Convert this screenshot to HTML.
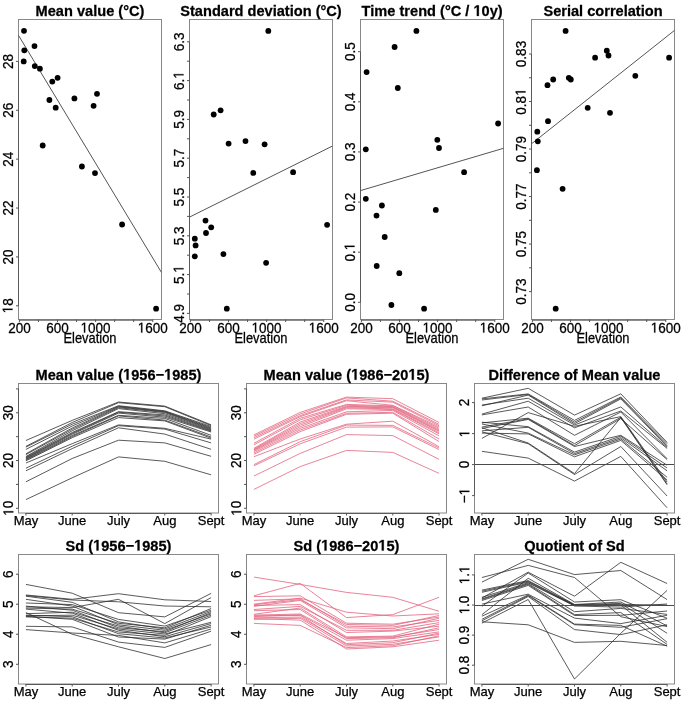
<!DOCTYPE html>
<html><head><meta charset="utf-8"><style>
html,body{margin:0;padding:0;background:#fff;}
svg{display:block;font-family:"Liberation Sans", sans-serif;will-change:transform;}
</style></head><body>
<svg width="685" height="707" viewBox="0 0 685 707">
<rect width="685" height="707" fill="#fff"/>
<rect x="18.5" y="19.5" width="143.0" height="300.0" fill="none" stroke="#888888" stroke-width="1"/>
<text transform="translate(90.00,15.90) scale(1,1.06)" text-anchor="middle" font-size="14.6" font-weight="bold" stroke="#000" stroke-width="0.25" fill="#000">Mean value (°C)</text>
<line x1="18.50" y1="305.80" x2="18.50" y2="61.40" stroke="#5a5a5a" stroke-width="1" />
<line x1="16.00" y1="305.80" x2="18.50" y2="305.80" stroke="#555555" stroke-width="1" />
<line x1="16.00" y1="256.92" x2="18.50" y2="256.92" stroke="#555555" stroke-width="1" />
<line x1="16.00" y1="208.04" x2="18.50" y2="208.04" stroke="#555555" stroke-width="1" />
<line x1="16.00" y1="159.16" x2="18.50" y2="159.16" stroke="#555555" stroke-width="1" />
<line x1="16.00" y1="110.28" x2="18.50" y2="110.28" stroke="#555555" stroke-width="1" />
<line x1="16.00" y1="61.40" x2="18.50" y2="61.40" stroke="#555555" stroke-width="1" />
<text transform="translate(12.50,305.80) rotate(-90) scale(1,1.06)" text-anchor="middle" font-size="13.5" stroke="#000" stroke-width="0.25" fill="#000" style="font-kerning:none"> 8</text>
<path transform="translate(12.50,305.80) rotate(-90) scale(1,1.06) translate(-7.508,0) scale(0.00659,-0.00659)" d="M515 0L515 1237L197 1010L197 1180L530 1409L696 1409L696 0Z" fill="#000" stroke="#000" stroke-width="37.93"/>
<text transform="translate(12.50,256.92) rotate(-90) scale(1,1.06)" text-anchor="middle" font-size="13.5" stroke="#000" stroke-width="0.25" fill="#000">20</text>
<text transform="translate(12.50,208.04) rotate(-90) scale(1,1.06)" text-anchor="middle" font-size="13.5" stroke="#000" stroke-width="0.25" fill="#000">22</text>
<text transform="translate(12.50,159.16) rotate(-90) scale(1,1.06)" text-anchor="middle" font-size="13.5" stroke="#000" stroke-width="0.25" fill="#000">24</text>
<text transform="translate(12.50,110.28) rotate(-90) scale(1,1.06)" text-anchor="middle" font-size="13.5" stroke="#000" stroke-width="0.25" fill="#000">26</text>
<text transform="translate(12.50,61.40) rotate(-90) scale(1,1.06)" text-anchor="middle" font-size="13.5" stroke="#000" stroke-width="0.25" fill="#000">28</text>
<line x1="19.40" y1="320.20" x2="152.75" y2="320.20" stroke="#5a5a5a" stroke-width="1" />
<line x1="19.40" y1="319.50" x2="19.40" y2="322.00" stroke="#555555" stroke-width="1" />
<line x1="38.45" y1="319.50" x2="38.45" y2="322.00" stroke="#555555" stroke-width="1" />
<line x1="57.50" y1="319.50" x2="57.50" y2="322.00" stroke="#555555" stroke-width="1" />
<line x1="76.55" y1="319.50" x2="76.55" y2="322.00" stroke="#555555" stroke-width="1" />
<line x1="95.60" y1="319.50" x2="95.60" y2="322.00" stroke="#555555" stroke-width="1" />
<line x1="114.65" y1="319.50" x2="114.65" y2="322.00" stroke="#555555" stroke-width="1" />
<line x1="133.70" y1="319.50" x2="133.70" y2="322.00" stroke="#555555" stroke-width="1" />
<line x1="152.75" y1="319.50" x2="152.75" y2="322.00" stroke="#555555" stroke-width="1" />
<text transform="translate(19.40,332.60) scale(1,1.06)" text-anchor="middle" font-size="13.5" stroke="#000" stroke-width="0.25" fill="#000">200</text>
<text transform="translate(57.50,332.60) scale(1,1.06)" text-anchor="middle" font-size="13.5" stroke="#000" stroke-width="0.25" fill="#000">600</text>
<text transform="translate(95.60,332.60) scale(1,1.06)" text-anchor="middle" font-size="13.5" stroke="#000" stroke-width="0.25" fill="#000" style="font-kerning:none"> 000</text>
<path transform="translate(95.60,332.60) scale(1,1.06) translate(-15.016,0) scale(0.00659,-0.00659)" d="M515 0L515 1237L197 1010L197 1180L530 1409L696 1409L696 0Z" fill="#000" stroke="#000" stroke-width="37.93"/>
<text transform="translate(152.75,332.60) scale(1,1.06)" text-anchor="middle" font-size="13.5" stroke="#000" stroke-width="0.25" fill="#000" style="font-kerning:none"> 600</text>
<path transform="translate(152.75,332.60) scale(1,1.06) translate(-15.016,0) scale(0.00659,-0.00659)" d="M515 0L515 1237L197 1010L197 1180L530 1409L696 1409L696 0Z" fill="#000" stroke="#000" stroke-width="37.93"/>
<text transform="translate(90.00,342.70) scale(1,1.08)" text-anchor="middle" font-size="12.9" stroke="#000" stroke-width="0.25" fill="#000">Elevation</text>
<line x1="18.50" y1="35.40" x2="161.50" y2="272.50" stroke="#555" stroke-width="1" />
<circle cx="24.00" cy="30.80" r="2.9" fill="#000"/>
<circle cx="24.30" cy="50.30" r="2.9" fill="#000"/>
<circle cx="23.70" cy="61.40" r="2.9" fill="#000"/>
<circle cx="34.50" cy="46.10" r="2.9" fill="#000"/>
<circle cx="34.80" cy="66.10" r="2.9" fill="#000"/>
<circle cx="39.90" cy="68.70" r="2.9" fill="#000"/>
<circle cx="52.30" cy="81.60" r="2.9" fill="#000"/>
<circle cx="57.60" cy="77.80" r="2.9" fill="#000"/>
<circle cx="49.40" cy="100.00" r="2.9" fill="#000"/>
<circle cx="55.70" cy="107.70" r="2.9" fill="#000"/>
<circle cx="74.40" cy="98.40" r="2.9" fill="#000"/>
<circle cx="97.00" cy="93.80" r="2.9" fill="#000"/>
<circle cx="93.60" cy="105.80" r="2.9" fill="#000"/>
<circle cx="42.70" cy="145.50" r="2.9" fill="#000"/>
<circle cx="81.90" cy="166.50" r="2.9" fill="#000"/>
<circle cx="95.00" cy="173.10" r="2.9" fill="#000"/>
<circle cx="122.10" cy="224.50" r="2.9" fill="#000"/>
<circle cx="156.10" cy="308.70" r="2.9" fill="#000"/>
<rect x="189.5" y="19.5" width="143.0" height="300.0" fill="none" stroke="#888888" stroke-width="1"/>
<text transform="translate(261.00,15.90) scale(1,1.06)" text-anchor="middle" font-size="14.6" font-weight="bold" stroke="#000" stroke-width="0.25" fill="#000">Standard deviation (°C)</text>
<line x1="189.50" y1="313.40" x2="189.50" y2="41.80" stroke="#5a5a5a" stroke-width="1" />
<line x1="187.00" y1="313.40" x2="189.50" y2="313.40" stroke="#555555" stroke-width="1" />
<line x1="187.00" y1="294.00" x2="189.50" y2="294.00" stroke="#555555" stroke-width="1" />
<line x1="187.00" y1="274.60" x2="189.50" y2="274.60" stroke="#555555" stroke-width="1" />
<line x1="187.00" y1="255.20" x2="189.50" y2="255.20" stroke="#555555" stroke-width="1" />
<line x1="187.00" y1="235.80" x2="189.50" y2="235.80" stroke="#555555" stroke-width="1" />
<line x1="187.00" y1="216.40" x2="189.50" y2="216.40" stroke="#555555" stroke-width="1" />
<line x1="187.00" y1="197.00" x2="189.50" y2="197.00" stroke="#555555" stroke-width="1" />
<line x1="187.00" y1="177.60" x2="189.50" y2="177.60" stroke="#555555" stroke-width="1" />
<line x1="187.00" y1="158.20" x2="189.50" y2="158.20" stroke="#555555" stroke-width="1" />
<line x1="187.00" y1="138.80" x2="189.50" y2="138.80" stroke="#555555" stroke-width="1" />
<line x1="187.00" y1="119.40" x2="189.50" y2="119.40" stroke="#555555" stroke-width="1" />
<line x1="187.00" y1="100.00" x2="189.50" y2="100.00" stroke="#555555" stroke-width="1" />
<line x1="187.00" y1="80.60" x2="189.50" y2="80.60" stroke="#555555" stroke-width="1" />
<line x1="187.00" y1="61.20" x2="189.50" y2="61.20" stroke="#555555" stroke-width="1" />
<line x1="187.00" y1="41.80" x2="189.50" y2="41.80" stroke="#555555" stroke-width="1" />
<text transform="translate(183.50,313.40) rotate(-90) scale(1,1.06)" text-anchor="middle" font-size="13.5" stroke="#000" stroke-width="0.25" fill="#000">4.9</text>
<text transform="translate(183.50,274.60) rotate(-90) scale(1,1.06)" text-anchor="middle" font-size="13.5" stroke="#000" stroke-width="0.25" fill="#000" style="font-kerning:none">5. </text>
<path transform="translate(183.50,274.60) rotate(-90) scale(1,1.06) translate(1.875,0) scale(0.00659,-0.00659)" d="M515 0L515 1237L197 1010L197 1180L530 1409L696 1409L696 0Z" fill="#000" stroke="#000" stroke-width="37.93"/>
<text transform="translate(183.50,235.80) rotate(-90) scale(1,1.06)" text-anchor="middle" font-size="13.5" stroke="#000" stroke-width="0.25" fill="#000">5.3</text>
<text transform="translate(183.50,197.00) rotate(-90) scale(1,1.06)" text-anchor="middle" font-size="13.5" stroke="#000" stroke-width="0.25" fill="#000">5.5</text>
<text transform="translate(183.50,158.20) rotate(-90) scale(1,1.06)" text-anchor="middle" font-size="13.5" stroke="#000" stroke-width="0.25" fill="#000">5.7</text>
<text transform="translate(183.50,119.40) rotate(-90) scale(1,1.06)" text-anchor="middle" font-size="13.5" stroke="#000" stroke-width="0.25" fill="#000">5.9</text>
<text transform="translate(183.50,80.60) rotate(-90) scale(1,1.06)" text-anchor="middle" font-size="13.5" stroke="#000" stroke-width="0.25" fill="#000" style="font-kerning:none">6. </text>
<path transform="translate(183.50,80.60) rotate(-90) scale(1,1.06) translate(1.875,0) scale(0.00659,-0.00659)" d="M515 0L515 1237L197 1010L197 1180L530 1409L696 1409L696 0Z" fill="#000" stroke="#000" stroke-width="37.93"/>
<text transform="translate(183.50,41.80) rotate(-90) scale(1,1.06)" text-anchor="middle" font-size="13.5" stroke="#000" stroke-width="0.25" fill="#000">6.3</text>
<line x1="190.40" y1="320.20" x2="323.75" y2="320.20" stroke="#5a5a5a" stroke-width="1" />
<line x1="190.40" y1="319.50" x2="190.40" y2="322.00" stroke="#555555" stroke-width="1" />
<line x1="209.45" y1="319.50" x2="209.45" y2="322.00" stroke="#555555" stroke-width="1" />
<line x1="228.50" y1="319.50" x2="228.50" y2="322.00" stroke="#555555" stroke-width="1" />
<line x1="247.55" y1="319.50" x2="247.55" y2="322.00" stroke="#555555" stroke-width="1" />
<line x1="266.60" y1="319.50" x2="266.60" y2="322.00" stroke="#555555" stroke-width="1" />
<line x1="285.65" y1="319.50" x2="285.65" y2="322.00" stroke="#555555" stroke-width="1" />
<line x1="304.70" y1="319.50" x2="304.70" y2="322.00" stroke="#555555" stroke-width="1" />
<line x1="323.75" y1="319.50" x2="323.75" y2="322.00" stroke="#555555" stroke-width="1" />
<text transform="translate(190.40,332.60) scale(1,1.06)" text-anchor="middle" font-size="13.5" stroke="#000" stroke-width="0.25" fill="#000">200</text>
<text transform="translate(228.50,332.60) scale(1,1.06)" text-anchor="middle" font-size="13.5" stroke="#000" stroke-width="0.25" fill="#000">600</text>
<text transform="translate(266.60,332.60) scale(1,1.06)" text-anchor="middle" font-size="13.5" stroke="#000" stroke-width="0.25" fill="#000" style="font-kerning:none"> 000</text>
<path transform="translate(266.60,332.60) scale(1,1.06) translate(-15.016,0) scale(0.00659,-0.00659)" d="M515 0L515 1237L197 1010L197 1180L530 1409L696 1409L696 0Z" fill="#000" stroke="#000" stroke-width="37.93"/>
<text transform="translate(323.75,332.60) scale(1,1.06)" text-anchor="middle" font-size="13.5" stroke="#000" stroke-width="0.25" fill="#000" style="font-kerning:none"> 600</text>
<path transform="translate(323.75,332.60) scale(1,1.06) translate(-15.016,0) scale(0.00659,-0.00659)" d="M515 0L515 1237L197 1010L197 1180L530 1409L696 1409L696 0Z" fill="#000" stroke="#000" stroke-width="37.93"/>
<text transform="translate(261.00,342.70) scale(1,1.08)" text-anchor="middle" font-size="12.9" stroke="#000" stroke-width="0.25" fill="#000">Elevation</text>
<line x1="189.50" y1="217.10" x2="332.50" y2="146.00" stroke="#555" stroke-width="1" />
<circle cx="268.30" cy="30.90" r="2.9" fill="#000"/>
<circle cx="213.70" cy="114.50" r="2.9" fill="#000"/>
<circle cx="220.60" cy="110.30" r="2.9" fill="#000"/>
<circle cx="228.60" cy="143.60" r="2.9" fill="#000"/>
<circle cx="245.50" cy="141.10" r="2.9" fill="#000"/>
<circle cx="264.60" cy="144.30" r="2.9" fill="#000"/>
<circle cx="253.30" cy="172.90" r="2.9" fill="#000"/>
<circle cx="293.10" cy="172.20" r="2.9" fill="#000"/>
<circle cx="205.50" cy="220.60" r="2.9" fill="#000"/>
<circle cx="211.20" cy="227.30" r="2.9" fill="#000"/>
<circle cx="206.00" cy="233.00" r="2.9" fill="#000"/>
<circle cx="194.80" cy="238.70" r="2.9" fill="#000"/>
<circle cx="195.60" cy="245.40" r="2.9" fill="#000"/>
<circle cx="194.80" cy="256.30" r="2.9" fill="#000"/>
<circle cx="223.40" cy="254.10" r="2.9" fill="#000"/>
<circle cx="266.10" cy="262.80" r="2.9" fill="#000"/>
<circle cx="327.10" cy="224.80" r="2.9" fill="#000"/>
<circle cx="226.80" cy="308.70" r="2.9" fill="#000"/>
<rect x="360.5" y="19.5" width="143.0" height="300.0" fill="none" stroke="#888888" stroke-width="1"/>
<text transform="translate(432.00,15.90) scale(1,1.06)" text-anchor="middle" font-size="14.6" font-weight="bold" stroke="#000" stroke-width="0.25" fill="#000" style="font-kerning:none">Time trend (°C /  0y)</text>
<path transform="translate(432.00,15.90) scale(1,1.06) translate(41.440,0) scale(0.00713,-0.00713)" d="M478 0L478 1170L140 959L140 1180L493 1409L759 1409L759 0Z" fill="#000" stroke="#000" stroke-width="35.07"/>
<line x1="360.50" y1="302.30" x2="360.50" y2="51.70" stroke="#5a5a5a" stroke-width="1" />
<line x1="358.00" y1="302.30" x2="360.50" y2="302.30" stroke="#555555" stroke-width="1" />
<line x1="358.00" y1="252.18" x2="360.50" y2="252.18" stroke="#555555" stroke-width="1" />
<line x1="358.00" y1="202.06" x2="360.50" y2="202.06" stroke="#555555" stroke-width="1" />
<line x1="358.00" y1="151.94" x2="360.50" y2="151.94" stroke="#555555" stroke-width="1" />
<line x1="358.00" y1="101.82" x2="360.50" y2="101.82" stroke="#555555" stroke-width="1" />
<line x1="358.00" y1="51.70" x2="360.50" y2="51.70" stroke="#555555" stroke-width="1" />
<text transform="translate(354.50,302.30) rotate(-90) scale(1,1.06)" text-anchor="middle" font-size="13.5" stroke="#000" stroke-width="0.25" fill="#000">0.0</text>
<text transform="translate(354.50,252.18) rotate(-90) scale(1,1.06)" text-anchor="middle" font-size="13.5" stroke="#000" stroke-width="0.25" fill="#000" style="font-kerning:none">0. </text>
<path transform="translate(354.50,252.18) rotate(-90) scale(1,1.06) translate(1.875,0) scale(0.00659,-0.00659)" d="M515 0L515 1237L197 1010L197 1180L530 1409L696 1409L696 0Z" fill="#000" stroke="#000" stroke-width="37.93"/>
<text transform="translate(354.50,202.06) rotate(-90) scale(1,1.06)" text-anchor="middle" font-size="13.5" stroke="#000" stroke-width="0.25" fill="#000">0.2</text>
<text transform="translate(354.50,151.94) rotate(-90) scale(1,1.06)" text-anchor="middle" font-size="13.5" stroke="#000" stroke-width="0.25" fill="#000">0.3</text>
<text transform="translate(354.50,101.82) rotate(-90) scale(1,1.06)" text-anchor="middle" font-size="13.5" stroke="#000" stroke-width="0.25" fill="#000">0.4</text>
<text transform="translate(354.50,51.70) rotate(-90) scale(1,1.06)" text-anchor="middle" font-size="13.5" stroke="#000" stroke-width="0.25" fill="#000">0.5</text>
<line x1="361.40" y1="320.20" x2="494.75" y2="320.20" stroke="#5a5a5a" stroke-width="1" />
<line x1="361.40" y1="319.50" x2="361.40" y2="322.00" stroke="#555555" stroke-width="1" />
<line x1="380.45" y1="319.50" x2="380.45" y2="322.00" stroke="#555555" stroke-width="1" />
<line x1="399.50" y1="319.50" x2="399.50" y2="322.00" stroke="#555555" stroke-width="1" />
<line x1="418.55" y1="319.50" x2="418.55" y2="322.00" stroke="#555555" stroke-width="1" />
<line x1="437.60" y1="319.50" x2="437.60" y2="322.00" stroke="#555555" stroke-width="1" />
<line x1="456.65" y1="319.50" x2="456.65" y2="322.00" stroke="#555555" stroke-width="1" />
<line x1="475.70" y1="319.50" x2="475.70" y2="322.00" stroke="#555555" stroke-width="1" />
<line x1="494.75" y1="319.50" x2="494.75" y2="322.00" stroke="#555555" stroke-width="1" />
<text transform="translate(361.40,332.60) scale(1,1.06)" text-anchor="middle" font-size="13.5" stroke="#000" stroke-width="0.25" fill="#000">200</text>
<text transform="translate(399.50,332.60) scale(1,1.06)" text-anchor="middle" font-size="13.5" stroke="#000" stroke-width="0.25" fill="#000">600</text>
<text transform="translate(437.60,332.60) scale(1,1.06)" text-anchor="middle" font-size="13.5" stroke="#000" stroke-width="0.25" fill="#000" style="font-kerning:none"> 000</text>
<path transform="translate(437.60,332.60) scale(1,1.06) translate(-15.016,0) scale(0.00659,-0.00659)" d="M515 0L515 1237L197 1010L197 1180L530 1409L696 1409L696 0Z" fill="#000" stroke="#000" stroke-width="37.93"/>
<text transform="translate(494.75,332.60) scale(1,1.06)" text-anchor="middle" font-size="13.5" stroke="#000" stroke-width="0.25" fill="#000" style="font-kerning:none"> 600</text>
<path transform="translate(494.75,332.60) scale(1,1.06) translate(-15.016,0) scale(0.00659,-0.00659)" d="M515 0L515 1237L197 1010L197 1180L530 1409L696 1409L696 0Z" fill="#000" stroke="#000" stroke-width="37.93"/>
<text transform="translate(432.00,342.70) scale(1,1.08)" text-anchor="middle" font-size="12.9" stroke="#000" stroke-width="0.25" fill="#000">Elevation</text>
<line x1="360.50" y1="190.60" x2="503.50" y2="148.30" stroke="#555" stroke-width="1" />
<circle cx="416.40" cy="30.90" r="2.9" fill="#000"/>
<circle cx="394.60" cy="47.00" r="2.9" fill="#000"/>
<circle cx="366.60" cy="72.10" r="2.9" fill="#000"/>
<circle cx="397.80" cy="88.00" r="2.9" fill="#000"/>
<circle cx="498.10" cy="123.50" r="2.9" fill="#000"/>
<circle cx="437.30" cy="139.80" r="2.9" fill="#000"/>
<circle cx="439.00" cy="148.00" r="2.9" fill="#000"/>
<circle cx="365.80" cy="149.30" r="2.9" fill="#000"/>
<circle cx="464.10" cy="172.20" r="2.9" fill="#000"/>
<circle cx="365.80" cy="198.80" r="2.9" fill="#000"/>
<circle cx="381.90" cy="205.50" r="2.9" fill="#000"/>
<circle cx="376.50" cy="215.60" r="2.9" fill="#000"/>
<circle cx="435.80" cy="209.90" r="2.9" fill="#000"/>
<circle cx="384.70" cy="237.00" r="2.9" fill="#000"/>
<circle cx="376.70" cy="266.00" r="2.9" fill="#000"/>
<circle cx="399.30" cy="273.20" r="2.9" fill="#000"/>
<circle cx="391.40" cy="305.00" r="2.9" fill="#000"/>
<circle cx="424.10" cy="308.70" r="2.9" fill="#000"/>
<rect x="531.5" y="19.5" width="143.0" height="300.0" fill="none" stroke="#888888" stroke-width="1"/>
<text transform="translate(603.00,15.90) scale(1,1.06)" text-anchor="middle" font-size="14.6" font-weight="bold" stroke="#000" stroke-width="0.25" fill="#000">Serial correlation</text>
<line x1="531.50" y1="291.60" x2="531.50" y2="54.00" stroke="#5a5a5a" stroke-width="1" />
<line x1="529.00" y1="291.60" x2="531.50" y2="291.60" stroke="#555555" stroke-width="1" />
<line x1="529.00" y1="267.84" x2="531.50" y2="267.84" stroke="#555555" stroke-width="1" />
<line x1="529.00" y1="244.08" x2="531.50" y2="244.08" stroke="#555555" stroke-width="1" />
<line x1="529.00" y1="220.32" x2="531.50" y2="220.32" stroke="#555555" stroke-width="1" />
<line x1="529.00" y1="196.56" x2="531.50" y2="196.56" stroke="#555555" stroke-width="1" />
<line x1="529.00" y1="172.80" x2="531.50" y2="172.80" stroke="#555555" stroke-width="1" />
<line x1="529.00" y1="149.04" x2="531.50" y2="149.04" stroke="#555555" stroke-width="1" />
<line x1="529.00" y1="125.28" x2="531.50" y2="125.28" stroke="#555555" stroke-width="1" />
<line x1="529.00" y1="101.52" x2="531.50" y2="101.52" stroke="#555555" stroke-width="1" />
<line x1="529.00" y1="77.76" x2="531.50" y2="77.76" stroke="#555555" stroke-width="1" />
<line x1="529.00" y1="54.00" x2="531.50" y2="54.00" stroke="#555555" stroke-width="1" />
<text transform="translate(525.50,291.60) rotate(-90) scale(1,1.06)" text-anchor="middle" font-size="13.5" stroke="#000" stroke-width="0.25" fill="#000">0.73</text>
<text transform="translate(525.50,244.08) rotate(-90) scale(1,1.06)" text-anchor="middle" font-size="13.5" stroke="#000" stroke-width="0.25" fill="#000">0.75</text>
<text transform="translate(525.50,196.56) rotate(-90) scale(1,1.06)" text-anchor="middle" font-size="13.5" stroke="#000" stroke-width="0.25" fill="#000">0.77</text>
<text transform="translate(525.50,149.04) rotate(-90) scale(1,1.06)" text-anchor="middle" font-size="13.5" stroke="#000" stroke-width="0.25" fill="#000">0.79</text>
<text transform="translate(525.50,101.52) rotate(-90) scale(1,1.06)" text-anchor="middle" font-size="13.5" stroke="#000" stroke-width="0.25" fill="#000" style="font-kerning:none">0.8 </text>
<path transform="translate(525.50,101.52) rotate(-90) scale(1,1.06) translate(5.629,0) scale(0.00659,-0.00659)" d="M515 0L515 1237L197 1010L197 1180L530 1409L696 1409L696 0Z" fill="#000" stroke="#000" stroke-width="37.93"/>
<text transform="translate(525.50,54.00) rotate(-90) scale(1,1.06)" text-anchor="middle" font-size="13.5" stroke="#000" stroke-width="0.25" fill="#000">0.83</text>
<line x1="532.40" y1="320.20" x2="665.75" y2="320.20" stroke="#5a5a5a" stroke-width="1" />
<line x1="532.40" y1="319.50" x2="532.40" y2="322.00" stroke="#555555" stroke-width="1" />
<line x1="551.45" y1="319.50" x2="551.45" y2="322.00" stroke="#555555" stroke-width="1" />
<line x1="570.50" y1="319.50" x2="570.50" y2="322.00" stroke="#555555" stroke-width="1" />
<line x1="589.55" y1="319.50" x2="589.55" y2="322.00" stroke="#555555" stroke-width="1" />
<line x1="608.60" y1="319.50" x2="608.60" y2="322.00" stroke="#555555" stroke-width="1" />
<line x1="627.65" y1="319.50" x2="627.65" y2="322.00" stroke="#555555" stroke-width="1" />
<line x1="646.70" y1="319.50" x2="646.70" y2="322.00" stroke="#555555" stroke-width="1" />
<line x1="665.75" y1="319.50" x2="665.75" y2="322.00" stroke="#555555" stroke-width="1" />
<text transform="translate(532.40,332.60) scale(1,1.06)" text-anchor="middle" font-size="13.5" stroke="#000" stroke-width="0.25" fill="#000">200</text>
<text transform="translate(570.50,332.60) scale(1,1.06)" text-anchor="middle" font-size="13.5" stroke="#000" stroke-width="0.25" fill="#000">600</text>
<text transform="translate(608.60,332.60) scale(1,1.06)" text-anchor="middle" font-size="13.5" stroke="#000" stroke-width="0.25" fill="#000" style="font-kerning:none"> 000</text>
<path transform="translate(608.60,332.60) scale(1,1.06) translate(-15.016,0) scale(0.00659,-0.00659)" d="M515 0L515 1237L197 1010L197 1180L530 1409L696 1409L696 0Z" fill="#000" stroke="#000" stroke-width="37.93"/>
<text transform="translate(665.75,332.60) scale(1,1.06)" text-anchor="middle" font-size="13.5" stroke="#000" stroke-width="0.25" fill="#000" style="font-kerning:none"> 600</text>
<path transform="translate(665.75,332.60) scale(1,1.06) translate(-15.016,0) scale(0.00659,-0.00659)" d="M515 0L515 1237L197 1010L197 1180L530 1409L696 1409L696 0Z" fill="#000" stroke="#000" stroke-width="37.93"/>
<text transform="translate(603.00,342.70) scale(1,1.08)" text-anchor="middle" font-size="12.9" stroke="#000" stroke-width="0.25" fill="#000">Elevation</text>
<line x1="531.50" y1="143.80" x2="674.50" y2="30.40" stroke="#555" stroke-width="1" />
<circle cx="565.60" cy="30.90" r="2.9" fill="#000"/>
<circle cx="606.80" cy="50.70" r="2.9" fill="#000"/>
<circle cx="608.50" cy="55.50" r="2.9" fill="#000"/>
<circle cx="595.10" cy="57.70" r="2.9" fill="#000"/>
<circle cx="669.10" cy="57.70" r="2.9" fill="#000"/>
<circle cx="635.30" cy="75.80" r="2.9" fill="#000"/>
<circle cx="568.80" cy="77.80" r="2.9" fill="#000"/>
<circle cx="570.80" cy="79.50" r="2.9" fill="#000"/>
<circle cx="553.20" cy="79.50" r="2.9" fill="#000"/>
<circle cx="547.50" cy="85.20" r="2.9" fill="#000"/>
<circle cx="587.70" cy="107.80" r="2.9" fill="#000"/>
<circle cx="610.00" cy="112.80" r="2.9" fill="#000"/>
<circle cx="548.00" cy="121.20" r="2.9" fill="#000"/>
<circle cx="537.30" cy="131.70" r="2.9" fill="#000"/>
<circle cx="537.80" cy="141.30" r="2.9" fill="#000"/>
<circle cx="536.90" cy="170.20" r="2.9" fill="#000"/>
<circle cx="562.60" cy="188.80" r="2.9" fill="#000"/>
<circle cx="555.70" cy="308.70" r="2.9" fill="#000"/>
<polyline points="25.91,440.50 72.20,420.40 118.50,402.00 164.80,406.10 211.09,424.80" fill="none" stroke="#2a2a2a" stroke-width="0.78" stroke-linejoin="miter" />
<polyline points="25.91,446.40 72.20,422.50 118.50,402.70 164.80,406.70 211.09,425.60" fill="none" stroke="#2a2a2a" stroke-width="0.78" stroke-linejoin="miter" />
<polyline points="25.91,447.10 72.20,424.20 118.50,405.70 164.80,410.80 211.09,426.50" fill="none" stroke="#2a2a2a" stroke-width="0.78" stroke-linejoin="miter" />
<polyline points="25.91,449.40 72.20,426.00 118.50,406.30 164.80,411.40 211.09,427.50" fill="none" stroke="#2a2a2a" stroke-width="0.78" stroke-linejoin="miter" />
<polyline points="25.91,453.80 72.20,428.00 118.50,406.90 164.80,411.90 211.09,428.30" fill="none" stroke="#2a2a2a" stroke-width="0.78" stroke-linejoin="miter" />
<polyline points="25.91,454.60 72.20,429.30 118.50,407.70 164.80,412.50 211.09,429.10" fill="none" stroke="#2a2a2a" stroke-width="0.78" stroke-linejoin="miter" />
<polyline points="25.91,456.50 72.20,430.80 118.50,408.60 164.80,413.70 211.09,429.80" fill="none" stroke="#2a2a2a" stroke-width="0.78" stroke-linejoin="miter" />
<polyline points="25.91,457.20 72.20,432.50 118.50,411.70 164.80,414.90 211.09,430.60" fill="none" stroke="#2a2a2a" stroke-width="0.78" stroke-linejoin="miter" />
<polyline points="25.91,457.90 72.20,433.40 118.50,412.20 164.80,416.00 211.09,431.20" fill="none" stroke="#2a2a2a" stroke-width="0.78" stroke-linejoin="miter" />
<polyline points="25.91,458.60 72.20,434.30 118.50,413.10 164.80,417.20 211.09,432.00" fill="none" stroke="#2a2a2a" stroke-width="0.78" stroke-linejoin="miter" />
<polyline points="25.91,459.30 72.20,435.60 118.50,415.30 164.80,418.40 211.09,435.30" fill="none" stroke="#2a2a2a" stroke-width="0.78" stroke-linejoin="miter" />
<polyline points="25.91,460.00 72.20,436.60 118.50,415.90 164.80,420.10 211.09,437.00" fill="none" stroke="#2a2a2a" stroke-width="0.78" stroke-linejoin="miter" />
<polyline points="25.91,460.80 72.20,437.70 118.50,417.60 164.80,420.90 211.09,438.20" fill="none" stroke="#2a2a2a" stroke-width="0.78" stroke-linejoin="miter" />
<polyline points="25.91,463.00 72.20,443.70 118.50,424.90 164.80,428.30 211.09,439.10" fill="none" stroke="#2a2a2a" stroke-width="0.78" stroke-linejoin="miter" />
<polyline points="25.91,468.20 72.20,446.20 118.50,425.70 164.80,429.10 211.09,442.90" fill="none" stroke="#2a2a2a" stroke-width="0.78" stroke-linejoin="miter" />
<polyline points="25.91,470.80 72.20,448.60 118.50,427.80 164.80,434.10 211.09,449.30" fill="none" stroke="#2a2a2a" stroke-width="0.78" stroke-linejoin="miter" />
<polyline points="25.91,481.80 72.20,458.50 118.50,440.20 164.80,442.90 211.09,456.30" fill="none" stroke="#2a2a2a" stroke-width="0.78" stroke-linejoin="miter" />
<polyline points="25.91,499.60 72.20,477.80 118.50,456.90 164.80,461.30 211.09,474.80" fill="none" stroke="#2a2a2a" stroke-width="0.78" stroke-linejoin="miter" />
<rect x="18.5" y="383.5" width="200.0" height="129.5" fill="none" stroke="#888888" stroke-width="1"/>
<line x1="25.91" y1="513.50" x2="211.09" y2="513.50" stroke="#5a5a5a" stroke-width="1" />
<line x1="18.50" y1="508.30" x2="18.50" y2="388.90" stroke="#5a5a5a" stroke-width="1" />
<text transform="translate(118.50,379.70) scale(1,1.06)" text-anchor="middle" font-size="14.6" font-weight="bold" stroke="#000" stroke-width="0.25" fill="#000" style="font-kerning:none">Mean value ( 956− 985)</text>
<path transform="translate(118.50,379.70) scale(1,1.06) translate(4.641,0) scale(0.00713,-0.00713)" d="M478 0L478 1170L140 959L140 1180L493 1409L759 1409L759 0Z" fill="#000" stroke="#000" stroke-width="35.07"/>
<path transform="translate(118.50,379.70) scale(1,1.06) translate(45.646,0) scale(0.00713,-0.00713)" d="M478 0L478 1170L140 959L140 1180L493 1409L759 1409L759 0Z" fill="#000" stroke="#000" stroke-width="35.07"/>
<line x1="16.00" y1="508.30" x2="18.50" y2="508.30" stroke="#555555" stroke-width="1" />
<line x1="16.00" y1="484.42" x2="18.50" y2="484.42" stroke="#555555" stroke-width="1" />
<line x1="16.00" y1="460.54" x2="18.50" y2="460.54" stroke="#555555" stroke-width="1" />
<line x1="16.00" y1="436.66" x2="18.50" y2="436.66" stroke="#555555" stroke-width="1" />
<line x1="16.00" y1="412.78" x2="18.50" y2="412.78" stroke="#555555" stroke-width="1" />
<line x1="16.00" y1="388.90" x2="18.50" y2="388.90" stroke="#555555" stroke-width="1" />
<text transform="translate(13.30,508.30) rotate(-90) scale(1,1.06)" text-anchor="middle" font-size="13.5" stroke="#000" stroke-width="0.25" fill="#000" style="font-kerning:none"> 0</text>
<path transform="translate(13.30,508.30) rotate(-90) scale(1,1.06) translate(-7.508,0) scale(0.00659,-0.00659)" d="M515 0L515 1237L197 1010L197 1180L530 1409L696 1409L696 0Z" fill="#000" stroke="#000" stroke-width="37.93"/>
<text transform="translate(13.30,460.54) rotate(-90) scale(1,1.06)" text-anchor="middle" font-size="13.5" stroke="#000" stroke-width="0.25" fill="#000">20</text>
<text transform="translate(13.30,412.78) rotate(-90) scale(1,1.06)" text-anchor="middle" font-size="13.5" stroke="#000" stroke-width="0.25" fill="#000">30</text>
<line x1="25.91" y1="513.00" x2="25.91" y2="515.50" stroke="#555555" stroke-width="1" />
<text transform="translate(25.91,525.00) scale(1,1.0)" text-anchor="middle" font-size="13.0" stroke="#000" stroke-width="0.25" fill="#000">May</text>
<line x1="72.20" y1="513.00" x2="72.20" y2="515.50" stroke="#555555" stroke-width="1" />
<text transform="translate(72.20,525.00) scale(1,1.0)" text-anchor="middle" font-size="13.0" stroke="#000" stroke-width="0.25" fill="#000">June</text>
<line x1="118.50" y1="513.00" x2="118.50" y2="515.50" stroke="#555555" stroke-width="1" />
<text transform="translate(118.50,525.00) scale(1,1.0)" text-anchor="middle" font-size="13.0" stroke="#000" stroke-width="0.25" fill="#000">July</text>
<line x1="164.80" y1="513.00" x2="164.80" y2="515.50" stroke="#555555" stroke-width="1" />
<text transform="translate(164.80,525.00) scale(1,1.0)" text-anchor="middle" font-size="13.0" stroke="#000" stroke-width="0.25" fill="#000">Aug</text>
<line x1="211.09" y1="513.00" x2="211.09" y2="515.50" stroke="#555555" stroke-width="1" />
<text transform="translate(211.09,525.00) scale(1,1.0)" text-anchor="middle" font-size="13.0" stroke="#000" stroke-width="0.25" fill="#000">Sept</text>
<polyline points="253.91,434.90 300.20,412.40 346.50,397.10 392.80,398.70 439.09,422.50" fill="none" stroke="#e3607c" stroke-width="0.78" stroke-linejoin="miter" />
<polyline points="253.91,436.20 300.20,414.00 346.50,397.90 392.80,401.20 439.09,424.40" fill="none" stroke="#e3607c" stroke-width="0.78" stroke-linejoin="miter" />
<polyline points="253.91,437.60 300.20,415.60 346.50,399.90 392.80,402.20 439.09,425.70" fill="none" stroke="#e3607c" stroke-width="0.78" stroke-linejoin="miter" />
<polyline points="253.91,439.10 300.20,416.70 346.50,400.70 392.80,405.30 439.09,426.90" fill="none" stroke="#e3607c" stroke-width="0.78" stroke-linejoin="miter" />
<polyline points="253.91,443.30 300.20,418.30 346.50,404.40 392.80,405.90 439.09,428.20" fill="none" stroke="#e3607c" stroke-width="0.78" stroke-linejoin="miter" />
<polyline points="253.91,444.80 300.20,419.90 346.50,405.30 392.80,406.60 439.09,429.50" fill="none" stroke="#e3607c" stroke-width="0.78" stroke-linejoin="miter" />
<polyline points="253.91,448.30 300.20,422.00 346.50,406.30 392.80,407.20 439.09,430.50" fill="none" stroke="#e3607c" stroke-width="0.78" stroke-linejoin="miter" />
<polyline points="253.91,449.10 300.20,423.60 346.50,407.00 392.80,407.80 439.09,431.40" fill="none" stroke="#e3607c" stroke-width="0.78" stroke-linejoin="miter" />
<polyline points="253.91,449.80 300.20,425.20 346.50,407.80 392.80,408.90 439.09,432.70" fill="none" stroke="#e3607c" stroke-width="0.78" stroke-linejoin="miter" />
<polyline points="253.91,450.50 300.20,426.80 346.50,408.80 392.80,409.50 439.09,433.90" fill="none" stroke="#e3607c" stroke-width="0.78" stroke-linejoin="miter" />
<polyline points="253.91,451.50 300.20,428.40 346.50,411.80 392.80,410.40 439.09,435.90" fill="none" stroke="#e3607c" stroke-width="0.78" stroke-linejoin="miter" />
<polyline points="253.91,452.90 300.20,430.00 346.50,413.30 392.80,412.30 439.09,439.00" fill="none" stroke="#e3607c" stroke-width="0.78" stroke-linejoin="miter" />
<polyline points="253.91,454.30 300.20,431.60 346.50,414.30 392.80,413.20 439.09,441.60" fill="none" stroke="#e3607c" stroke-width="0.78" stroke-linejoin="miter" />
<polyline points="253.91,456.70 300.20,439.00 346.50,424.20 392.80,421.20 439.09,446.70" fill="none" stroke="#e3607c" stroke-width="0.78" stroke-linejoin="miter" />
<polyline points="253.91,464.60 300.20,441.70 346.50,425.10 392.80,425.40 439.09,448.00" fill="none" stroke="#e3607c" stroke-width="0.78" stroke-linejoin="miter" />
<polyline points="253.91,465.80 300.20,443.80 346.50,427.10 392.80,426.90 439.09,449.60" fill="none" stroke="#e3607c" stroke-width="0.78" stroke-linejoin="miter" />
<polyline points="253.91,476.00 300.20,453.40 346.50,434.60 392.80,435.60 439.09,459.40" fill="none" stroke="#e3607c" stroke-width="0.78" stroke-linejoin="miter" />
<polyline points="253.91,489.40 300.20,466.60 346.50,450.40 392.80,452.40 439.09,473.40" fill="none" stroke="#e3607c" stroke-width="0.78" stroke-linejoin="miter" />
<rect x="246.5" y="383.5" width="200.0" height="129.5" fill="none" stroke="#888888" stroke-width="1"/>
<line x1="253.91" y1="513.50" x2="439.09" y2="513.50" stroke="#5a5a5a" stroke-width="1" />
<line x1="246.50" y1="508.30" x2="246.50" y2="388.90" stroke="#5a5a5a" stroke-width="1" />
<text transform="translate(346.50,379.70) scale(1,1.06)" text-anchor="middle" font-size="14.6" font-weight="bold" stroke="#000" stroke-width="0.25" fill="#000" style="font-kerning:none">Mean value ( 986−20 5)</text>
<path transform="translate(346.50,379.70) scale(1,1.06) translate(4.641,0) scale(0.00713,-0.00713)" d="M478 0L478 1170L140 959L140 1180L493 1409L759 1409L759 0Z" fill="#000" stroke="#000" stroke-width="35.07"/>
<path transform="translate(346.50,379.70) scale(1,1.06) translate(61.886,0) scale(0.00713,-0.00713)" d="M478 0L478 1170L140 959L140 1180L493 1409L759 1409L759 0Z" fill="#000" stroke="#000" stroke-width="35.07"/>
<line x1="244.00" y1="508.30" x2="246.50" y2="508.30" stroke="#555555" stroke-width="1" />
<line x1="244.00" y1="484.42" x2="246.50" y2="484.42" stroke="#555555" stroke-width="1" />
<line x1="244.00" y1="460.54" x2="246.50" y2="460.54" stroke="#555555" stroke-width="1" />
<line x1="244.00" y1="436.66" x2="246.50" y2="436.66" stroke="#555555" stroke-width="1" />
<line x1="244.00" y1="412.78" x2="246.50" y2="412.78" stroke="#555555" stroke-width="1" />
<line x1="244.00" y1="388.90" x2="246.50" y2="388.90" stroke="#555555" stroke-width="1" />
<text transform="translate(241.30,508.30) rotate(-90) scale(1,1.06)" text-anchor="middle" font-size="13.5" stroke="#000" stroke-width="0.25" fill="#000" style="font-kerning:none"> 0</text>
<path transform="translate(241.30,508.30) rotate(-90) scale(1,1.06) translate(-7.508,0) scale(0.00659,-0.00659)" d="M515 0L515 1237L197 1010L197 1180L530 1409L696 1409L696 0Z" fill="#000" stroke="#000" stroke-width="37.93"/>
<text transform="translate(241.30,460.54) rotate(-90) scale(1,1.06)" text-anchor="middle" font-size="13.5" stroke="#000" stroke-width="0.25" fill="#000">20</text>
<text transform="translate(241.30,412.78) rotate(-90) scale(1,1.06)" text-anchor="middle" font-size="13.5" stroke="#000" stroke-width="0.25" fill="#000">30</text>
<line x1="253.91" y1="513.00" x2="253.91" y2="515.50" stroke="#555555" stroke-width="1" />
<text transform="translate(253.91,525.00) scale(1,1.0)" text-anchor="middle" font-size="13.0" stroke="#000" stroke-width="0.25" fill="#000">May</text>
<line x1="300.20" y1="513.00" x2="300.20" y2="515.50" stroke="#555555" stroke-width="1" />
<text transform="translate(300.20,525.00) scale(1,1.0)" text-anchor="middle" font-size="13.0" stroke="#000" stroke-width="0.25" fill="#000">June</text>
<line x1="346.50" y1="513.00" x2="346.50" y2="515.50" stroke="#555555" stroke-width="1" />
<text transform="translate(346.50,525.00) scale(1,1.0)" text-anchor="middle" font-size="13.0" stroke="#000" stroke-width="0.25" fill="#000">July</text>
<line x1="392.80" y1="513.00" x2="392.80" y2="515.50" stroke="#555555" stroke-width="1" />
<text transform="translate(392.80,525.00) scale(1,1.0)" text-anchor="middle" font-size="13.0" stroke="#000" stroke-width="0.25" fill="#000">Aug</text>
<line x1="439.09" y1="513.00" x2="439.09" y2="515.50" stroke="#555555" stroke-width="1" />
<text transform="translate(439.09,525.00) scale(1,1.0)" text-anchor="middle" font-size="13.0" stroke="#000" stroke-width="0.25" fill="#000">Sept</text>
<polyline points="481.91,398.20 528.20,388.30 574.50,415.10 620.80,393.80 667.09,442.40" fill="none" stroke="#2a2a2a" stroke-width="0.78" stroke-linejoin="miter" />
<polyline points="481.91,398.90 528.20,393.90 574.50,420.40 620.80,397.00 667.09,443.70" fill="none" stroke="#2a2a2a" stroke-width="0.78" stroke-linejoin="miter" />
<polyline points="481.91,400.00 528.20,394.50 574.50,422.20 620.80,397.90 667.09,445.60" fill="none" stroke="#2a2a2a" stroke-width="0.78" stroke-linejoin="miter" />
<polyline points="481.91,405.00 528.20,398.20 574.50,425.00 620.80,406.90 667.09,447.40" fill="none" stroke="#2a2a2a" stroke-width="0.78" stroke-linejoin="miter" />
<polyline points="481.91,405.80 528.20,395.10 574.50,423.70 620.80,398.90 667.09,446.50" fill="none" stroke="#2a2a2a" stroke-width="0.78" stroke-linejoin="miter" />
<polyline points="481.91,414.10 528.20,401.20 574.50,427.80 620.80,411.00 667.09,448.40" fill="none" stroke="#2a2a2a" stroke-width="0.78" stroke-linejoin="miter" />
<polyline points="481.91,414.90 528.20,407.00 574.50,435.30 620.80,412.00 667.09,458.70" fill="none" stroke="#2a2a2a" stroke-width="0.78" stroke-linejoin="miter" />
<polyline points="481.91,422.20 528.20,426.70 574.50,452.10 620.80,436.20 667.09,468.00" fill="none" stroke="#2a2a2a" stroke-width="0.78" stroke-linejoin="miter" />
<polyline points="481.91,422.90 528.20,418.20 574.50,443.70 620.80,417.20 667.09,483.90" fill="none" stroke="#2a2a2a" stroke-width="0.78" stroke-linejoin="miter" />
<polyline points="481.91,424.00 528.20,433.10 574.50,454.90 620.80,439.00 667.09,477.30" fill="none" stroke="#2a2a2a" stroke-width="0.78" stroke-linejoin="miter" />
<polyline points="481.91,427.00 528.20,418.80 574.50,445.60 620.80,418.50 667.09,459.60" fill="none" stroke="#2a2a2a" stroke-width="0.78" stroke-linejoin="miter" />
<polyline points="481.91,427.80 528.20,443.00 574.50,473.60 620.80,417.60 667.09,484.80" fill="none" stroke="#2a2a2a" stroke-width="0.78" stroke-linejoin="miter" />
<polyline points="481.91,428.50 528.20,419.40 574.50,446.50 620.80,435.30 667.09,465.20" fill="none" stroke="#2a2a2a" stroke-width="0.78" stroke-linejoin="miter" />
<polyline points="481.91,430.80 528.20,427.30 574.50,453.60 620.80,437.70 667.09,470.80" fill="none" stroke="#2a2a2a" stroke-width="0.78" stroke-linejoin="miter" />
<polyline points="481.91,431.90 528.20,443.70 574.50,474.50 620.80,446.50 667.09,496.00" fill="none" stroke="#2a2a2a" stroke-width="0.78" stroke-linejoin="miter" />
<polyline points="481.91,433.10 528.20,433.90 574.50,456.80 620.80,440.40 667.09,480.10" fill="none" stroke="#2a2a2a" stroke-width="0.78" stroke-linejoin="miter" />
<polyline points="481.91,438.40 528.20,412.60 574.50,426.30 620.80,416.60 667.09,482.00" fill="none" stroke="#2a2a2a" stroke-width="0.78" stroke-linejoin="miter" />
<polyline points="481.91,451.30 528.20,458.10 574.50,481.10 620.80,456.40 667.09,507.80" fill="none" stroke="#2a2a2a" stroke-width="0.78" stroke-linejoin="miter" />
<line x1="474.50" y1="464.50" x2="674.50" y2="464.50" stroke="#4a4a4a" stroke-width="1" />
<rect x="474.5" y="383.5" width="200.0" height="129.5" fill="none" stroke="#888888" stroke-width="1"/>
<line x1="481.91" y1="513.50" x2="667.09" y2="513.50" stroke="#5a5a5a" stroke-width="1" />
<line x1="474.50" y1="495.60" x2="474.50" y2="402.60" stroke="#5a5a5a" stroke-width="1" />
<text transform="translate(574.50,379.70) scale(1,1.06)" text-anchor="middle" font-size="14.6" font-weight="bold" stroke="#000" stroke-width="0.25" fill="#000">Difference of Mean value</text>
<line x1="472.00" y1="495.60" x2="474.50" y2="495.60" stroke="#555555" stroke-width="1" />
<line x1="472.00" y1="464.60" x2="474.50" y2="464.60" stroke="#555555" stroke-width="1" />
<line x1="472.00" y1="433.60" x2="474.50" y2="433.60" stroke="#555555" stroke-width="1" />
<line x1="472.00" y1="402.60" x2="474.50" y2="402.60" stroke="#555555" stroke-width="1" />
<text transform="translate(469.30,495.60) rotate(-90) scale(1,1.06)" text-anchor="middle" font-size="13.5" stroke="#000" stroke-width="0.25" fill="#000" style="font-kerning:none">− </text>
<path transform="translate(469.30,495.60) rotate(-90) scale(1,1.06) translate(0.188,0) scale(0.00659,-0.00659)" d="M515 0L515 1237L197 1010L197 1180L530 1409L696 1409L696 0Z" fill="#000" stroke="#000" stroke-width="37.93"/>
<text transform="translate(469.30,464.60) rotate(-90) scale(1,1.06)" text-anchor="middle" font-size="13.5" stroke="#000" stroke-width="0.25" fill="#000">0</text>
<text transform="translate(469.30,433.60) rotate(-90) scale(1,1.06)" text-anchor="middle" font-size="13.5" stroke="#000" stroke-width="0.25" fill="#000" style="font-kerning:none"> </text>
<path transform="translate(469.30,433.60) rotate(-90) scale(1,1.06) translate(-3.754,0) scale(0.00659,-0.00659)" d="M515 0L515 1237L197 1010L197 1180L530 1409L696 1409L696 0Z" fill="#000" stroke="#000" stroke-width="37.93"/>
<text transform="translate(469.30,402.60) rotate(-90) scale(1,1.06)" text-anchor="middle" font-size="13.5" stroke="#000" stroke-width="0.25" fill="#000">2</text>
<line x1="481.91" y1="513.00" x2="481.91" y2="515.50" stroke="#555555" stroke-width="1" />
<text transform="translate(481.91,525.00) scale(1,1.0)" text-anchor="middle" font-size="13.0" stroke="#000" stroke-width="0.25" fill="#000">May</text>
<line x1="528.20" y1="513.00" x2="528.20" y2="515.50" stroke="#555555" stroke-width="1" />
<text transform="translate(528.20,525.00) scale(1,1.0)" text-anchor="middle" font-size="13.0" stroke="#000" stroke-width="0.25" fill="#000">June</text>
<line x1="574.50" y1="513.00" x2="574.50" y2="515.50" stroke="#555555" stroke-width="1" />
<text transform="translate(574.50,525.00) scale(1,1.0)" text-anchor="middle" font-size="13.0" stroke="#000" stroke-width="0.25" fill="#000">July</text>
<line x1="620.80" y1="513.00" x2="620.80" y2="515.50" stroke="#555555" stroke-width="1" />
<text transform="translate(620.80,525.00) scale(1,1.0)" text-anchor="middle" font-size="13.0" stroke="#000" stroke-width="0.25" fill="#000">Aug</text>
<line x1="667.09" y1="513.00" x2="667.09" y2="515.50" stroke="#555555" stroke-width="1" />
<text transform="translate(667.09,525.00) scale(1,1.0)" text-anchor="middle" font-size="13.0" stroke="#000" stroke-width="0.25" fill="#000">Sept</text>
<polyline points="25.91,584.40 72.20,593.20 118.50,612.70 164.80,616.90 211.09,593.40" fill="none" stroke="#2a2a2a" stroke-width="0.78" stroke-linejoin="miter" />
<polyline points="25.91,595.00 72.20,599.30 118.50,593.70 164.80,599.80 211.09,601.50" fill="none" stroke="#2a2a2a" stroke-width="0.78" stroke-linejoin="miter" />
<polyline points="25.91,606.80 72.20,607.60 118.50,599.30 164.80,623.60 211.09,597.60" fill="none" stroke="#2a2a2a" stroke-width="0.78" stroke-linejoin="miter" />
<polyline points="25.91,595.60 72.20,600.00 118.50,601.80 164.80,606.00 211.09,606.80" fill="none" stroke="#2a2a2a" stroke-width="0.78" stroke-linejoin="miter" />
<polyline points="25.91,626.30 72.20,626.90 118.50,642.10 164.80,647.40 211.09,631.20" fill="none" stroke="#2a2a2a" stroke-width="0.78" stroke-linejoin="miter" />
<polyline points="25.91,612.60 72.20,634.20 118.50,646.80 164.80,658.50 211.09,644.60" fill="none" stroke="#2a2a2a" stroke-width="0.78" stroke-linejoin="miter" />
<polyline points="25.91,596.20 72.20,602.30 118.50,621.90 164.80,629.00 211.09,611.50" fill="none" stroke="#2a2a2a" stroke-width="0.78" stroke-linejoin="miter" />
<polyline points="25.91,599.30 72.20,606.10 118.50,624.80 164.80,630.30 211.09,613.90" fill="none" stroke="#2a2a2a" stroke-width="0.78" stroke-linejoin="miter" />
<polyline points="25.91,603.00 72.20,604.60 118.50,619.40 164.80,626.10 211.09,610.20" fill="none" stroke="#2a2a2a" stroke-width="0.78" stroke-linejoin="miter" />
<polyline points="25.91,606.10 72.20,610.20 118.50,627.80 164.80,631.70 211.09,612.70" fill="none" stroke="#2a2a2a" stroke-width="0.78" stroke-linejoin="miter" />
<polyline points="25.91,608.10 72.20,609.10 118.50,623.30 164.80,627.80 211.09,608.50" fill="none" stroke="#2a2a2a" stroke-width="0.78" stroke-linejoin="miter" />
<polyline points="25.91,609.10 72.20,613.20 118.50,630.30 164.80,636.70 211.09,623.60" fill="none" stroke="#2a2a2a" stroke-width="0.78" stroke-linejoin="miter" />
<polyline points="25.91,613.70 72.20,612.20 118.50,626.10 164.80,632.80 211.09,615.20" fill="none" stroke="#2a2a2a" stroke-width="0.78" stroke-linejoin="miter" />
<polyline points="25.91,615.20 72.20,616.70 118.50,633.70 164.80,638.00 211.09,627.00" fill="none" stroke="#2a2a2a" stroke-width="0.78" stroke-linejoin="miter" />
<polyline points="25.91,615.80 72.20,615.20 118.50,629.00 164.80,634.00 211.09,622.30" fill="none" stroke="#2a2a2a" stroke-width="0.78" stroke-linejoin="miter" />
<polyline points="25.91,616.30 72.20,619.30 118.50,637.00 164.80,639.10 211.09,625.30" fill="none" stroke="#2a2a2a" stroke-width="0.78" stroke-linejoin="miter" />
<polyline points="25.91,616.90 72.20,618.20 118.50,632.00 164.80,635.40 211.09,616.60" fill="none" stroke="#2a2a2a" stroke-width="0.78" stroke-linejoin="miter" />
<polyline points="25.91,629.60 72.20,633.00 118.50,635.40 164.80,642.90 211.09,629.00" fill="none" stroke="#2a2a2a" stroke-width="0.78" stroke-linejoin="miter" />
<rect x="18.5" y="554.5" width="200.0" height="129.5" fill="none" stroke="#888888" stroke-width="1"/>
<line x1="25.91" y1="684.50" x2="211.09" y2="684.50" stroke="#5a5a5a" stroke-width="1" />
<line x1="18.50" y1="664.30" x2="18.50" y2="574.21" stroke="#5a5a5a" stroke-width="1" />
<text transform="translate(118.50,550.60) scale(1,1.06)" text-anchor="middle" font-size="14.6" font-weight="bold" stroke="#000" stroke-width="0.25" fill="#000" style="font-kerning:none">Sd ( 956− 985)</text>
<path transform="translate(118.50,550.60) scale(1,1.06) translate(-25.386,0) scale(0.00713,-0.00713)" d="M478 0L478 1170L140 959L140 1180L493 1409L759 1409L759 0Z" fill="#000" stroke="#000" stroke-width="35.07"/>
<path transform="translate(118.50,550.60) scale(1,1.06) translate(15.619,0) scale(0.00713,-0.00713)" d="M478 0L478 1170L140 959L140 1180L493 1409L759 1409L759 0Z" fill="#000" stroke="#000" stroke-width="35.07"/>
<line x1="16.00" y1="664.30" x2="18.50" y2="664.30" stroke="#555555" stroke-width="1" />
<line x1="16.00" y1="634.27" x2="18.50" y2="634.27" stroke="#555555" stroke-width="1" />
<line x1="16.00" y1="604.24" x2="18.50" y2="604.24" stroke="#555555" stroke-width="1" />
<line x1="16.00" y1="574.21" x2="18.50" y2="574.21" stroke="#555555" stroke-width="1" />
<text transform="translate(13.30,664.30) rotate(-90) scale(1,1.06)" text-anchor="middle" font-size="13.5" stroke="#000" stroke-width="0.25" fill="#000">3</text>
<text transform="translate(13.30,634.27) rotate(-90) scale(1,1.06)" text-anchor="middle" font-size="13.5" stroke="#000" stroke-width="0.25" fill="#000">4</text>
<text transform="translate(13.30,604.24) rotate(-90) scale(1,1.06)" text-anchor="middle" font-size="13.5" stroke="#000" stroke-width="0.25" fill="#000">5</text>
<text transform="translate(13.30,574.21) rotate(-90) scale(1,1.06)" text-anchor="middle" font-size="13.5" stroke="#000" stroke-width="0.25" fill="#000">6</text>
<line x1="25.91" y1="684.00" x2="25.91" y2="686.50" stroke="#555555" stroke-width="1" />
<text transform="translate(25.91,696.00) scale(1,1.0)" text-anchor="middle" font-size="13.0" stroke="#000" stroke-width="0.25" fill="#000">May</text>
<line x1="72.20" y1="684.00" x2="72.20" y2="686.50" stroke="#555555" stroke-width="1" />
<text transform="translate(72.20,696.00) scale(1,1.0)" text-anchor="middle" font-size="13.0" stroke="#000" stroke-width="0.25" fill="#000">June</text>
<line x1="118.50" y1="684.00" x2="118.50" y2="686.50" stroke="#555555" stroke-width="1" />
<text transform="translate(118.50,696.00) scale(1,1.0)" text-anchor="middle" font-size="13.0" stroke="#000" stroke-width="0.25" fill="#000">July</text>
<line x1="164.80" y1="684.00" x2="164.80" y2="686.50" stroke="#555555" stroke-width="1" />
<text transform="translate(164.80,696.00) scale(1,1.0)" text-anchor="middle" font-size="13.0" stroke="#000" stroke-width="0.25" fill="#000">Aug</text>
<line x1="211.09" y1="684.00" x2="211.09" y2="686.50" stroke="#555555" stroke-width="1" />
<text transform="translate(211.09,696.00) scale(1,1.0)" text-anchor="middle" font-size="13.0" stroke="#000" stroke-width="0.25" fill="#000">Sept</text>
<polyline points="253.91,577.10 300.20,584.40 346.50,592.40 392.80,597.30 439.09,611.30" fill="none" stroke="#e3607c" stroke-width="0.78" stroke-linejoin="miter" />
<polyline points="253.91,595.80 300.20,583.40 346.50,617.60 392.80,614.60 439.09,597.30" fill="none" stroke="#e3607c" stroke-width="0.78" stroke-linejoin="miter" />
<polyline points="253.91,596.60 300.20,595.80 346.50,623.20 392.80,624.20 439.09,617.10" fill="none" stroke="#e3607c" stroke-width="0.78" stroke-linejoin="miter" />
<polyline points="253.91,600.40 300.20,598.80 346.50,626.20 392.80,627.00 439.09,620.40" fill="none" stroke="#e3607c" stroke-width="0.78" stroke-linejoin="miter" />
<polyline points="253.91,604.20 300.20,598.10 346.50,612.20 392.80,616.00 439.09,613.80" fill="none" stroke="#e3607c" stroke-width="0.78" stroke-linejoin="miter" />
<polyline points="253.91,604.80 300.20,599.60 346.50,624.50 392.80,625.40 439.09,615.50" fill="none" stroke="#e3607c" stroke-width="0.78" stroke-linejoin="miter" />
<polyline points="253.91,605.50 300.20,604.60 346.50,632.50 392.80,631.10 439.09,626.20" fill="none" stroke="#e3607c" stroke-width="0.78" stroke-linejoin="miter" />
<polyline points="253.91,606.40 300.20,600.40 346.50,627.80 392.80,628.70 439.09,618.30" fill="none" stroke="#e3607c" stroke-width="0.78" stroke-linejoin="miter" />
<polyline points="253.91,609.50 300.20,606.40 346.50,630.30 392.80,630.30 439.09,622.60" fill="none" stroke="#e3607c" stroke-width="0.78" stroke-linejoin="miter" />
<polyline points="253.91,610.70 300.20,609.50 346.50,638.60 392.80,637.70 439.09,627.80" fill="none" stroke="#e3607c" stroke-width="0.78" stroke-linejoin="miter" />
<polyline points="253.91,614.30 300.20,608.00 346.50,636.90 392.80,636.10 439.09,624.20" fill="none" stroke="#e3607c" stroke-width="0.78" stroke-linejoin="miter" />
<polyline points="253.91,615.10 300.20,614.00 346.50,637.70 392.80,636.90 439.09,629.50" fill="none" stroke="#e3607c" stroke-width="0.78" stroke-linejoin="miter" />
<polyline points="253.91,615.80 300.20,615.50 346.50,644.70 392.80,642.70 439.09,633.10" fill="none" stroke="#e3607c" stroke-width="0.78" stroke-linejoin="miter" />
<polyline points="253.91,616.60 300.20,614.80 346.50,640.20 392.80,638.60 439.09,631.90" fill="none" stroke="#e3607c" stroke-width="0.78" stroke-linejoin="miter" />
<polyline points="253.91,617.80 300.20,617.10 346.50,643.50 392.80,641.00 439.09,634.40" fill="none" stroke="#e3607c" stroke-width="0.78" stroke-linejoin="miter" />
<polyline points="253.91,618.60 300.20,620.10 346.50,649.00 392.80,646.80 439.09,640.20" fill="none" stroke="#e3607c" stroke-width="0.78" stroke-linejoin="miter" />
<polyline points="253.91,619.30 300.20,618.30 346.50,646.00 392.80,644.30 439.09,636.90" fill="none" stroke="#e3607c" stroke-width="0.78" stroke-linejoin="miter" />
<polyline points="253.91,623.40 300.20,625.40 346.50,647.60 392.80,645.70 439.09,635.80" fill="none" stroke="#e3607c" stroke-width="0.78" stroke-linejoin="miter" />
<rect x="246.5" y="554.5" width="200.0" height="129.5" fill="none" stroke="#888888" stroke-width="1"/>
<line x1="253.91" y1="684.50" x2="439.09" y2="684.50" stroke="#5a5a5a" stroke-width="1" />
<line x1="246.50" y1="664.30" x2="246.50" y2="574.21" stroke="#5a5a5a" stroke-width="1" />
<text transform="translate(346.50,550.60) scale(1,1.06)" text-anchor="middle" font-size="14.6" font-weight="bold" stroke="#000" stroke-width="0.25" fill="#000" style="font-kerning:none">Sd ( 986−20 5)</text>
<path transform="translate(346.50,550.60) scale(1,1.06) translate(-25.386,0) scale(0.00713,-0.00713)" d="M478 0L478 1170L140 959L140 1180L493 1409L759 1409L759 0Z" fill="#000" stroke="#000" stroke-width="35.07"/>
<path transform="translate(346.50,550.60) scale(1,1.06) translate(31.859,0) scale(0.00713,-0.00713)" d="M478 0L478 1170L140 959L140 1180L493 1409L759 1409L759 0Z" fill="#000" stroke="#000" stroke-width="35.07"/>
<line x1="244.00" y1="664.30" x2="246.50" y2="664.30" stroke="#555555" stroke-width="1" />
<line x1="244.00" y1="634.27" x2="246.50" y2="634.27" stroke="#555555" stroke-width="1" />
<line x1="244.00" y1="604.24" x2="246.50" y2="604.24" stroke="#555555" stroke-width="1" />
<line x1="244.00" y1="574.21" x2="246.50" y2="574.21" stroke="#555555" stroke-width="1" />
<text transform="translate(241.30,664.30) rotate(-90) scale(1,1.06)" text-anchor="middle" font-size="13.5" stroke="#000" stroke-width="0.25" fill="#000">3</text>
<text transform="translate(241.30,634.27) rotate(-90) scale(1,1.06)" text-anchor="middle" font-size="13.5" stroke="#000" stroke-width="0.25" fill="#000">4</text>
<text transform="translate(241.30,604.24) rotate(-90) scale(1,1.06)" text-anchor="middle" font-size="13.5" stroke="#000" stroke-width="0.25" fill="#000">5</text>
<text transform="translate(241.30,574.21) rotate(-90) scale(1,1.06)" text-anchor="middle" font-size="13.5" stroke="#000" stroke-width="0.25" fill="#000">6</text>
<line x1="253.91" y1="684.00" x2="253.91" y2="686.50" stroke="#555555" stroke-width="1" />
<text transform="translate(253.91,696.00) scale(1,1.0)" text-anchor="middle" font-size="13.0" stroke="#000" stroke-width="0.25" fill="#000">May</text>
<line x1="300.20" y1="684.00" x2="300.20" y2="686.50" stroke="#555555" stroke-width="1" />
<text transform="translate(300.20,696.00) scale(1,1.0)" text-anchor="middle" font-size="13.0" stroke="#000" stroke-width="0.25" fill="#000">June</text>
<line x1="346.50" y1="684.00" x2="346.50" y2="686.50" stroke="#555555" stroke-width="1" />
<text transform="translate(346.50,696.00) scale(1,1.0)" text-anchor="middle" font-size="13.0" stroke="#000" stroke-width="0.25" fill="#000">July</text>
<line x1="392.80" y1="684.00" x2="392.80" y2="686.50" stroke="#555555" stroke-width="1" />
<text transform="translate(392.80,696.00) scale(1,1.0)" text-anchor="middle" font-size="13.0" stroke="#000" stroke-width="0.25" fill="#000">Aug</text>
<line x1="439.09" y1="684.00" x2="439.09" y2="686.50" stroke="#555555" stroke-width="1" />
<text transform="translate(439.09,696.00) scale(1,1.0)" text-anchor="middle" font-size="13.0" stroke="#000" stroke-width="0.25" fill="#000">Sept</text>
<polyline points="481.91,582.10 528.20,559.30 574.50,574.60 620.80,570.50 667.09,599.60" fill="none" stroke="#2a2a2a" stroke-width="0.78" stroke-linejoin="miter" />
<polyline points="481.91,577.50 528.20,565.40 574.50,577.50 620.80,616.70 667.09,626.60" fill="none" stroke="#2a2a2a" stroke-width="0.78" stroke-linejoin="miter" />
<polyline points="481.91,598.00 528.20,572.20 574.50,596.20 620.80,562.30 667.09,583.50" fill="none" stroke="#2a2a2a" stroke-width="0.78" stroke-linejoin="miter" />
<polyline points="481.91,623.10 528.20,599.50 574.50,679.00 620.80,633.30 667.09,590.40" fill="none" stroke="#2a2a2a" stroke-width="0.78" stroke-linejoin="miter" />
<polyline points="481.91,621.80 528.20,624.80 574.50,642.40 620.80,641.30 667.09,645.50" fill="none" stroke="#2a2a2a" stroke-width="0.78" stroke-linejoin="miter" />
<polyline points="481.91,590.10 528.20,580.60 574.50,604.80 620.80,603.40 667.09,633.30" fill="none" stroke="#2a2a2a" stroke-width="0.78" stroke-linejoin="miter" />
<polyline points="481.91,591.20 528.20,581.30 574.50,605.20 620.80,604.30 667.09,605.20" fill="none" stroke="#2a2a2a" stroke-width="0.78" stroke-linejoin="miter" />
<polyline points="481.91,592.30 528.20,582.10 574.50,605.60 620.80,605.00 667.09,642.30" fill="none" stroke="#2a2a2a" stroke-width="0.78" stroke-linejoin="miter" />
<polyline points="481.91,597.30 528.20,582.80 574.50,606.00 620.80,607.10 667.09,604.00" fill="none" stroke="#2a2a2a" stroke-width="0.78" stroke-linejoin="miter" />
<polyline points="481.91,598.80 528.20,583.60 574.50,611.70 620.80,608.40 667.09,614.40" fill="none" stroke="#2a2a2a" stroke-width="0.78" stroke-linejoin="miter" />
<polyline points="481.91,599.50 528.20,584.40 574.50,614.60 620.80,612.60 667.09,644.40" fill="none" stroke="#2a2a2a" stroke-width="0.78" stroke-linejoin="miter" />
<polyline points="481.91,600.50 528.20,585.40 574.50,615.50 620.80,615.30 667.09,611.00" fill="none" stroke="#2a2a2a" stroke-width="0.78" stroke-linejoin="miter" />
<polyline points="481.91,604.10 528.20,594.20 574.50,618.10 620.80,623.60 667.09,615.30" fill="none" stroke="#2a2a2a" stroke-width="0.78" stroke-linejoin="miter" />
<polyline points="481.91,606.40 528.20,573.00 574.50,602.00 620.80,599.70 667.09,618.30" fill="none" stroke="#2a2a2a" stroke-width="0.78" stroke-linejoin="miter" />
<polyline points="481.91,614.70 528.20,578.30 574.50,604.50 620.80,602.00 667.09,625.90" fill="none" stroke="#2a2a2a" stroke-width="0.78" stroke-linejoin="miter" />
<polyline points="481.91,616.20 528.20,595.00 574.50,624.10 620.80,625.40 667.09,646.20" fill="none" stroke="#2a2a2a" stroke-width="0.78" stroke-linejoin="miter" />
<polyline points="481.91,619.30 528.20,595.70 574.50,624.70 620.80,627.30 667.09,618.70" fill="none" stroke="#2a2a2a" stroke-width="0.78" stroke-linejoin="miter" />
<polyline points="481.91,620.80 528.20,596.50 574.50,629.60 620.80,634.60 667.09,624.80" fill="none" stroke="#2a2a2a" stroke-width="0.78" stroke-linejoin="miter" />
<line x1="474.50" y1="605.50" x2="674.50" y2="605.50" stroke="#4a4a4a" stroke-width="1" />
<rect x="474.5" y="554.5" width="200.0" height="129.5" fill="none" stroke="#888888" stroke-width="1"/>
<line x1="481.91" y1="684.50" x2="667.09" y2="684.50" stroke="#5a5a5a" stroke-width="1" />
<line x1="474.50" y1="665.20" x2="474.50" y2="574.90" stroke="#5a5a5a" stroke-width="1" />
<text transform="translate(574.50,550.60) scale(1,1.06)" text-anchor="middle" font-size="14.6" font-weight="bold" stroke="#000" stroke-width="0.25" fill="#000">Quotient of Sd</text>
<line x1="472.00" y1="665.20" x2="474.50" y2="665.20" stroke="#555555" stroke-width="1" />
<line x1="472.00" y1="635.10" x2="474.50" y2="635.10" stroke="#555555" stroke-width="1" />
<line x1="472.00" y1="605.00" x2="474.50" y2="605.00" stroke="#555555" stroke-width="1" />
<line x1="472.00" y1="574.90" x2="474.50" y2="574.90" stroke="#555555" stroke-width="1" />
<text transform="translate(469.30,665.20) rotate(-90) scale(1,1.06)" text-anchor="middle" font-size="13.5" stroke="#000" stroke-width="0.25" fill="#000">0.8</text>
<text transform="translate(469.30,635.10) rotate(-90) scale(1,1.06)" text-anchor="middle" font-size="13.5" stroke="#000" stroke-width="0.25" fill="#000">0.9</text>
<text transform="translate(469.30,605.00) rotate(-90) scale(1,1.06)" text-anchor="middle" font-size="13.5" stroke="#000" stroke-width="0.25" fill="#000" style="font-kerning:none"> .0</text>
<path transform="translate(469.30,605.00) rotate(-90) scale(1,1.06) translate(-9.383,0) scale(0.00659,-0.00659)" d="M515 0L515 1237L197 1010L197 1180L530 1409L696 1409L696 0Z" fill="#000" stroke="#000" stroke-width="37.93"/>
<text transform="translate(469.30,574.90) rotate(-90) scale(1,1.06)" text-anchor="middle" font-size="13.5" stroke="#000" stroke-width="0.25" fill="#000" style="font-kerning:none"> . </text>
<path transform="translate(469.30,574.90) rotate(-90) scale(1,1.06) translate(-9.383,0) scale(0.00659,-0.00659)" d="M515 0L515 1237L197 1010L197 1180L530 1409L696 1409L696 0Z" fill="#000" stroke="#000" stroke-width="37.93"/>
<path transform="translate(469.30,574.90) rotate(-90) scale(1,1.06) translate(1.875,0) scale(0.00659,-0.00659)" d="M515 0L515 1237L197 1010L197 1180L530 1409L696 1409L696 0Z" fill="#000" stroke="#000" stroke-width="37.93"/>
<line x1="481.91" y1="684.00" x2="481.91" y2="686.50" stroke="#555555" stroke-width="1" />
<text transform="translate(481.91,696.00) scale(1,1.0)" text-anchor="middle" font-size="13.0" stroke="#000" stroke-width="0.25" fill="#000">May</text>
<line x1="528.20" y1="684.00" x2="528.20" y2="686.50" stroke="#555555" stroke-width="1" />
<text transform="translate(528.20,696.00) scale(1,1.0)" text-anchor="middle" font-size="13.0" stroke="#000" stroke-width="0.25" fill="#000">June</text>
<line x1="574.50" y1="684.00" x2="574.50" y2="686.50" stroke="#555555" stroke-width="1" />
<text transform="translate(574.50,696.00) scale(1,1.0)" text-anchor="middle" font-size="13.0" stroke="#000" stroke-width="0.25" fill="#000">July</text>
<line x1="620.80" y1="684.00" x2="620.80" y2="686.50" stroke="#555555" stroke-width="1" />
<text transform="translate(620.80,696.00) scale(1,1.0)" text-anchor="middle" font-size="13.0" stroke="#000" stroke-width="0.25" fill="#000">Aug</text>
<line x1="667.09" y1="684.00" x2="667.09" y2="686.50" stroke="#555555" stroke-width="1" />
<text transform="translate(667.09,696.00) scale(1,1.0)" text-anchor="middle" font-size="13.0" stroke="#000" stroke-width="0.25" fill="#000">Sept</text>
</svg>
</body></html>
